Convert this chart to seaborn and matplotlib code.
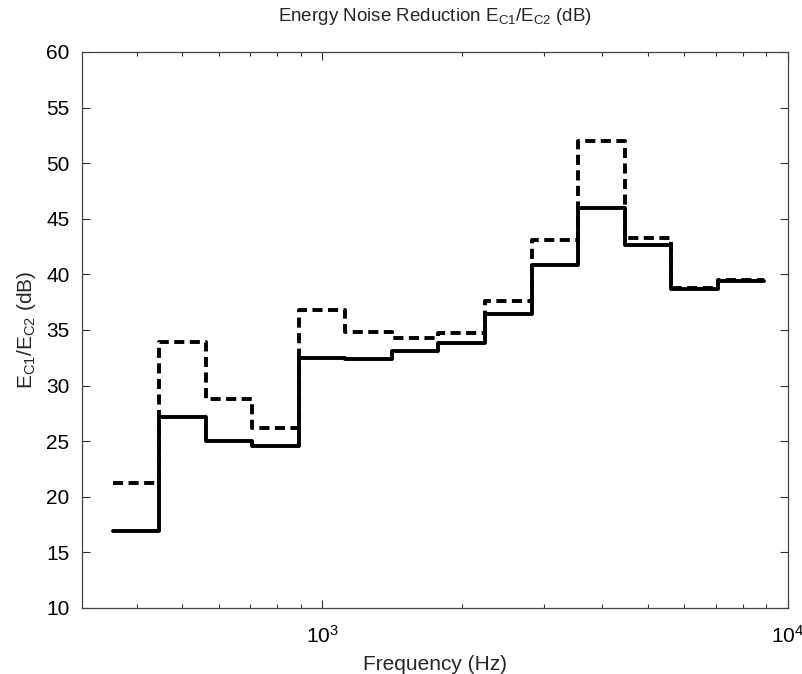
"""
Energy noise reduction per third-octave band, two configurations drawn as steps.
"""

import numpy as np
import pandas as pd
import matplotlib
matplotlib.use("Agg")
import matplotlib.pyplot as plt
import seaborn as sns

# third-octave band edges (Hz), 400 Hz ... 8 kHz bands
BAND_EDGES = [355, 447, 562, 708, 891, 1122, 1413, 1778, 2239, 2818,
              3548, 4467, 5623, 7079, 8913]

# noise reduction per band (dB)
SOLID_DB = [16.9, 27.2, 25.0, 24.6, 32.5, 32.4, 33.1, 33.8, 36.4,
            40.8, 46.0, 42.6, 38.7, 39.4]
DASHED_DB = [21.2, 33.9, 28.8, 26.2, 36.8, 34.85, 34.3, 34.75, 37.6,
             43.1, 52.0, 43.3, 38.8, 39.5]

Y_TICKS = list(range(10, 61, 5))


def step_frame(values: list[float]) -> pd.DataFrame:
    # repeat the last value so the final band gets its right edge
    return pd.DataFrame({"freq": BAND_EDGES, "db": values + [values[-1]]})


def main() -> None:
    sns.set_theme(style="ticks")
    plt.rcParams["font.family"] = ["Liberation Sans", "DejaVu Sans"]
    plt.rcParams["mathtext.fontset"] = "custom"
    plt.rcParams["mathtext.rm"] = "Liberation Sans"
    plt.rcParams["mathtext.it"] = "Liberation Sans"

    fig = plt.figure(figsize=(8.03, 6.74), dpi=100)
    ax = fig.add_axes([0.102, 0.098, 0.879, 0.825])

    sns.lineplot(data=step_frame(DASHED_DB), x="freq", y="db", ax=ax,
                 color="black", linewidth=2.8, linestyle=(0, (2.6, 1.4)),
                 drawstyle="steps-post", estimator=None, sort=False)
    sns.lineplot(data=step_frame(SOLID_DB), x="freq", y="db", ax=ax,
                 color="black", linewidth=2.8, drawstyle="steps-post",
                 estimator=None, sort=False)

    ax.set_xscale("log")
    ax.set_xlim(305, 1e4)
    ax.set_ylim(10, 60)
    ax.set_yticks(Y_TICKS)

    ax.tick_params(which="both", direction="in", top=True, right=True,
                   colors="#333333", labelcolor="black", labelsize=15)
    ax.tick_params(which="major", length=6, width=0.8)
    ax.tick_params(which="minor", length=3, width=0.8)
    ax.tick_params(axis="x", which="major", pad=12)
    ax.tick_params(axis="y", which="major", pad=9)
    for sp in ax.spines.values():
        sp.set_visible(True)
        sp.set_color("#444444")
        sp.set_linewidth(0.9)

    ax.set_xlabel("Frequency (Hz)", fontsize=15, labelpad=6)
    ax.set_ylabel(r"E$_{\mathrm{C1}}$/E$_{\mathrm{C2}}$ (dB)", fontsize=15,
                  labelpad=6)
    ax.set_title(r"Energy Noise Reduction E$_{\mathrm{C1}}$/E$_{\mathrm{C2}}$ (dB)",
                 fontsize=13.5, pad=22)

    fig.savefig("out.png", dpi=100)
    plt.close(fig)


if __name__ == "__main__":
    main()
